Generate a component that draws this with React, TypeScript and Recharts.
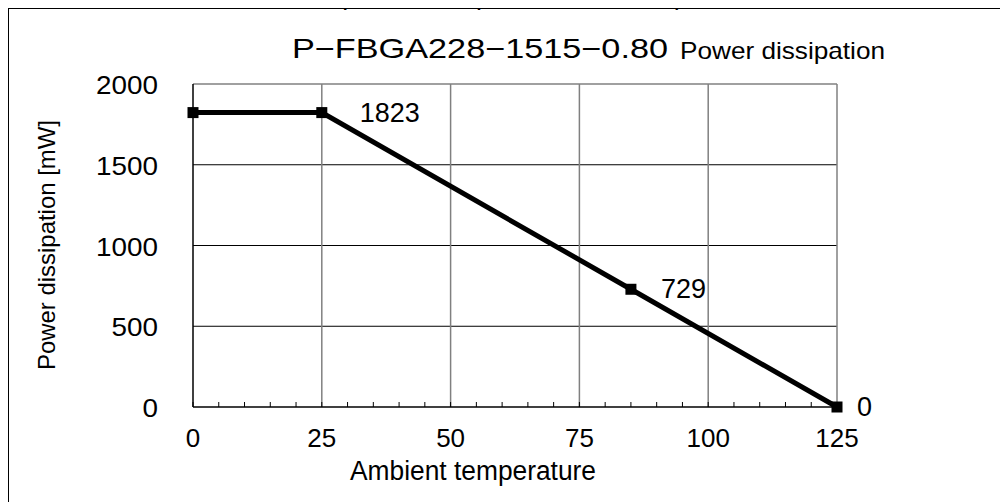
import React from 'react';
import { LineChart, Line, XAxis, YAxis, CartesianGrid, ReferenceLine, LabelList } from 'recharts';

const temperatures = [0, 25, 85, 125];
const dissipation = [1823, 1823, 729, 0];
const pointLabels = ['', '1823', '729', '0'];
const xTickLabels = [0, 25, 50, 75, 100, 125];
const xAllTicks = [0, 5, 10, 15, 20, 25, 30, 35, 40, 45, 50, 55, 60, 65, 70, 75, 80, 85, 90, 95, 100, 105, 110, 115, 120, 125];
const yTicks = [0, 500, 1000, 1500, 2000];
const gridX = [25, 50, 75, 100, 125];
const gridY = [500, 1000, 1500];

const noteText = '(When Ta = 85°C, maximum power dissipation is 729mW)';
const titleMain = 'P\u2212FBGA228\u22121515\u22120.80';
const titleSub = 'Power dissipation';
const xTitle = 'Ambient temperature';
const yTitle = 'Power dissipation [mW]';

const data = temperatures.map((t, i) => ({ t, p: dissipation[i], label: pointLabels[i] }));

const FONT = '"Liberation Sans", Arial, sans-serif';

const SquareDot = (props: any) => {
  const { cx, cy } = props;
  if (cx == null || cy == null) return <g />;
  return <rect x={cx - 5.5} y={cy - 5.5} width={11} height={11} fill="#000" />;
};

const YTick = (props: any) => {
  const { x, y, payload } = props;
  const s = String(payload.value);
  return (
    <text x={x} y={y + 1} textAnchor="end" dominantBaseline="central" fontSize={25} fontFamily={FONT} fill="#000"
      textLength={s.length * 15.5} lengthAdjust="spacingAndGlyphs">
      {s}
    </text>
  );
};

const XTick = (props: any) => {
  const { x, y, payload } = props;
  if (!xTickLabels.includes(payload.value)) return <g />;
  const s = String(payload.value);
  return (
    <text x={x} y={y} textAnchor="middle" fontSize={26} fontFamily={FONT} fill="#000">
      {s}
    </text>
  );
};

const PointLabel = (props: any) => {
  const { x, y, value, index } = props;
  if (!value) return <g />;
  const gap = index === 1 ? 38 : index === 2 ? 30 : 20;
  return (
    <text x={x + gap} y={y} dominantBaseline="central" fontSize={27} fontFamily={FONT} fill="#000">
      {value}
    </text>
  );
};

export default function App() {
  return (
    <div style={{ position: 'relative', width: 1000, height: 494 }}>
      <style>{`html,body{overflow:hidden;}`}</style>
      <div style={{ position: 'absolute', left: 0, top: 0, width: 1100, height: 600, border: '1px solid #000', boxSizing: 'border-box' }} />
      <div style={{ position: 'absolute', left: -8, top: -8 }}>
        <LineChart width={1008} height={502} data={data} margin={{ top: 84, right: 171, left: 133, bottom: 35 }}>
          <CartesianGrid vertical={false} horizontalValues={gridY} stroke="#000" strokeWidth={1} />
          <CartesianGrid horizontal={false} verticalValues={gridX} stroke="#808080" strokeWidth={1.5} />
          <ReferenceLine y={2000} stroke="#808080" strokeWidth={1.5} />
          <XAxis dataKey="t" type="number" domain={[0, 125]} ticks={xAllTicks} interval={0}
            axisLine={{ stroke: '#000', strokeWidth: 1.5 }} tickLine={{ stroke: '#000', strokeWidth: 1 }}
            tickSize={-5} tickMargin={45} tick={<XTick />} height={60} />
          <YAxis type="number" domain={[0, 2000]} ticks={yTicks} interval={0}
            axisLine={{ stroke: '#000', strokeWidth: 1.5 }} tickLine={false} tickSize={0} tickMargin={35}
            tick={<YTick />} width={60} />
          <Line dataKey="p" stroke="#000" strokeWidth={5} dot={<SquareDot />} isAnimationActive={false}>
            <LabelList dataKey="label" content={<PointLabel />} />
          </Line>
        </LineChart>
        <svg width={1008} height={502} style={{ position: 'absolute', left: 0, top: 0, pointerEvents: 'none' }}>
          <text x={0} y={5} fontSize={26} fontFamily={FONT} fill="#000" textLength={684} lengthAdjust="spacingAndGlyphs">{noteText}</text>
          <text x={292} y={58} fontSize={28} fontFamily={FONT} fill="#000" textLength={376} lengthAdjust="spacingAndGlyphs">{titleMain}</text>
          <text x={680} y={59} fontSize={24} fontFamily={FONT} fill="#000" textLength={205} lengthAdjust="spacingAndGlyphs">{titleSub}</text>
          <text x={350} y={480} fontSize={27} fontFamily={FONT} fill="#000" textLength={246} lengthAdjust="spacingAndGlyphs">{xTitle}</text>
          <text x={0} y={0} transform="translate(55,370) rotate(-90)" fontSize={24} fontFamily={FONT} fill="#000" textLength={250} lengthAdjust="spacingAndGlyphs">{yTitle}</text>
        </svg>
      </div>
    </div>
  );
}
